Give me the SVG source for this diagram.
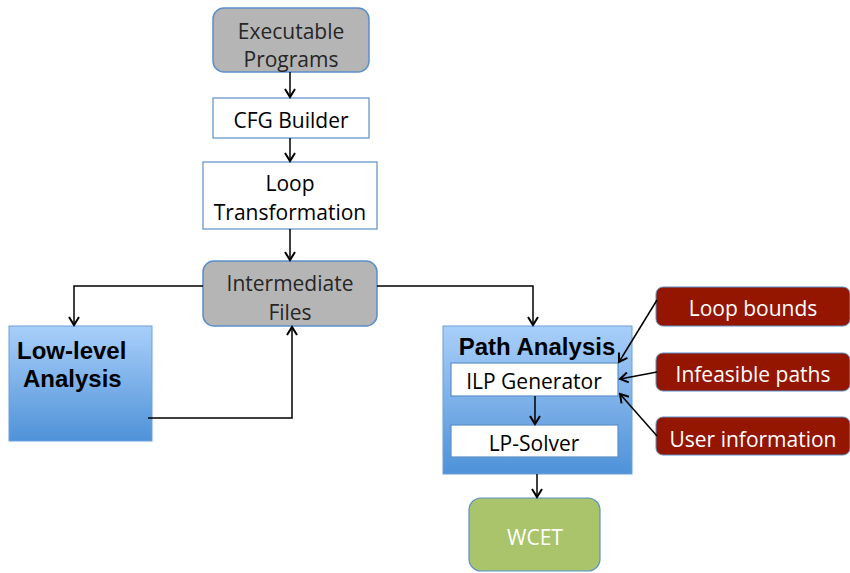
<svg xmlns="http://www.w3.org/2000/svg" width="850" height="573" viewBox="0 0 850 573">
<defs>
<linearGradient id="blue" x1="0" y1="0" x2="0" y2="1">
<stop offset="0" stop-color="#a9cffa"/>
<stop offset="1" stop-color="#4f92d8"/>
</linearGradient>
<marker id="arr" markerWidth="12" markerHeight="12" refX="10" refY="6" orient="auto" markerUnits="userSpaceOnUse">
<path d="M2,1 L10,6 L2,11" fill="none" stroke="#000" stroke-width="2"/>
</marker>
<style>
.t{font-family:"Open Sans","Liberation Sans",sans-serif;font-size:21px;text-anchor:middle}
.g{fill:#b5b5b5;stroke:#5b8fc9;stroke-width:1.5}
.w{fill:#fff;stroke:#5b8fc9;stroke-width:1.2}
.r{fill:#941500;stroke:#5b8fc9;stroke-width:1}
.b{fill:url(#blue);stroke:#6aa0da;stroke-width:1}
.h{font-family:"Liberation Sans",Arial,sans-serif;font-weight:bold;font-size:24px}
.c{fill:none;stroke:#000;stroke-width:1.5}
</style>
</defs>
<g id="exec"><rect class="g" x="213" y="8" width="156" height="64" rx="11"/><text class="t" x="291" y="39" fill="#262626">Executable</text><text class="t" x="291" y="67" fill="#262626">Programs</text></g>
<g id="cfg"><rect class="w" x="213" y="98" width="156" height="40"/><text class="t" x="291" y="128">CFG Builder</text></g>
<g id="loop"><rect class="w" x="203" y="162" width="174" height="67"/><text class="t" x="290" y="191">Loop</text><text class="t" x="290" y="220">Transformation</text></g>
<g id="inter"><rect class="g" x="203" y="261" width="174" height="65" rx="11"/><text class="t" x="290" y="291" fill="#262626">Intermediate</text><text class="t" x="290" y="320" fill="#262626">Files</text></g>
<g id="low"><rect class="b" x="9" y="326" width="143" height="115"/><text class="h" x="17" y="359">Low-level</text><text class="h" x="23" y="387">Analysis</text></g>
<g id="path"><rect class="b" x="443" y="326" width="189" height="148"/><text class="h" x="537" y="355" text-anchor="middle">Path Analysis</text></g>
<g id="ilp"><rect class="w" x="451" y="363" width="167" height="33"/><text class="t" x="534" y="389">ILP Generator</text></g>
<g id="lp"><rect class="w" x="451" y="425" width="167" height="32"/><text class="t" x="534" y="451">LP-Solver</text></g>
<g id="wcet"><rect x="469" y="498" width="131" height="73" rx="12" fill="#a9c46b" stroke="#5b8fc9" stroke-width="1.2"/><text class="t" x="535" y="545" fill="#fff">WCET</text></g>
<g id="lb"><rect class="r" x="656" y="287" width="194" height="39" rx="7"/><text class="t" x="753" y="316" fill="#fff">Loop bounds</text></g>
<g id="ip"><rect class="r" x="656" y="353" width="194" height="38" rx="7"/><text class="t" x="753" y="382" fill="#fff">Infeasible paths</text></g>
<g id="ui"><rect class="r" x="656" y="417" width="194" height="38" rx="7"/><text class="t" x="753" y="447" fill="#fff">User information</text></g>
<g id="connectors">
<path class="c" d="M290,72 V97" marker-end="url(#arr)"/>
<path class="c" d="M290,138 V161" marker-end="url(#arr)"/>
<path class="c" d="M290,229 V260" marker-end="url(#arr)"/>
<path class="c" d="M203,286 H74 V325" marker-end="url(#arr)"/>
<path class="c" d="M377,286 H533 V325" marker-end="url(#arr)"/>
<path class="c" d="M148,418 H292 V327" marker-end="url(#arr)"/>
<path class="c" d="M535,396 V424" marker-end="url(#arr)"/>
<path class="c" d="M537,474 V497" marker-end="url(#arr)"/>
<path class="c" d="M657,300 L619,362" marker-end="url(#arr)"/>
<path class="c" d="M657,372 L620,379" marker-end="url(#arr)"/>
<path class="c" d="M657,436 L620,394" marker-end="url(#arr)"/>
</g>
</svg>
